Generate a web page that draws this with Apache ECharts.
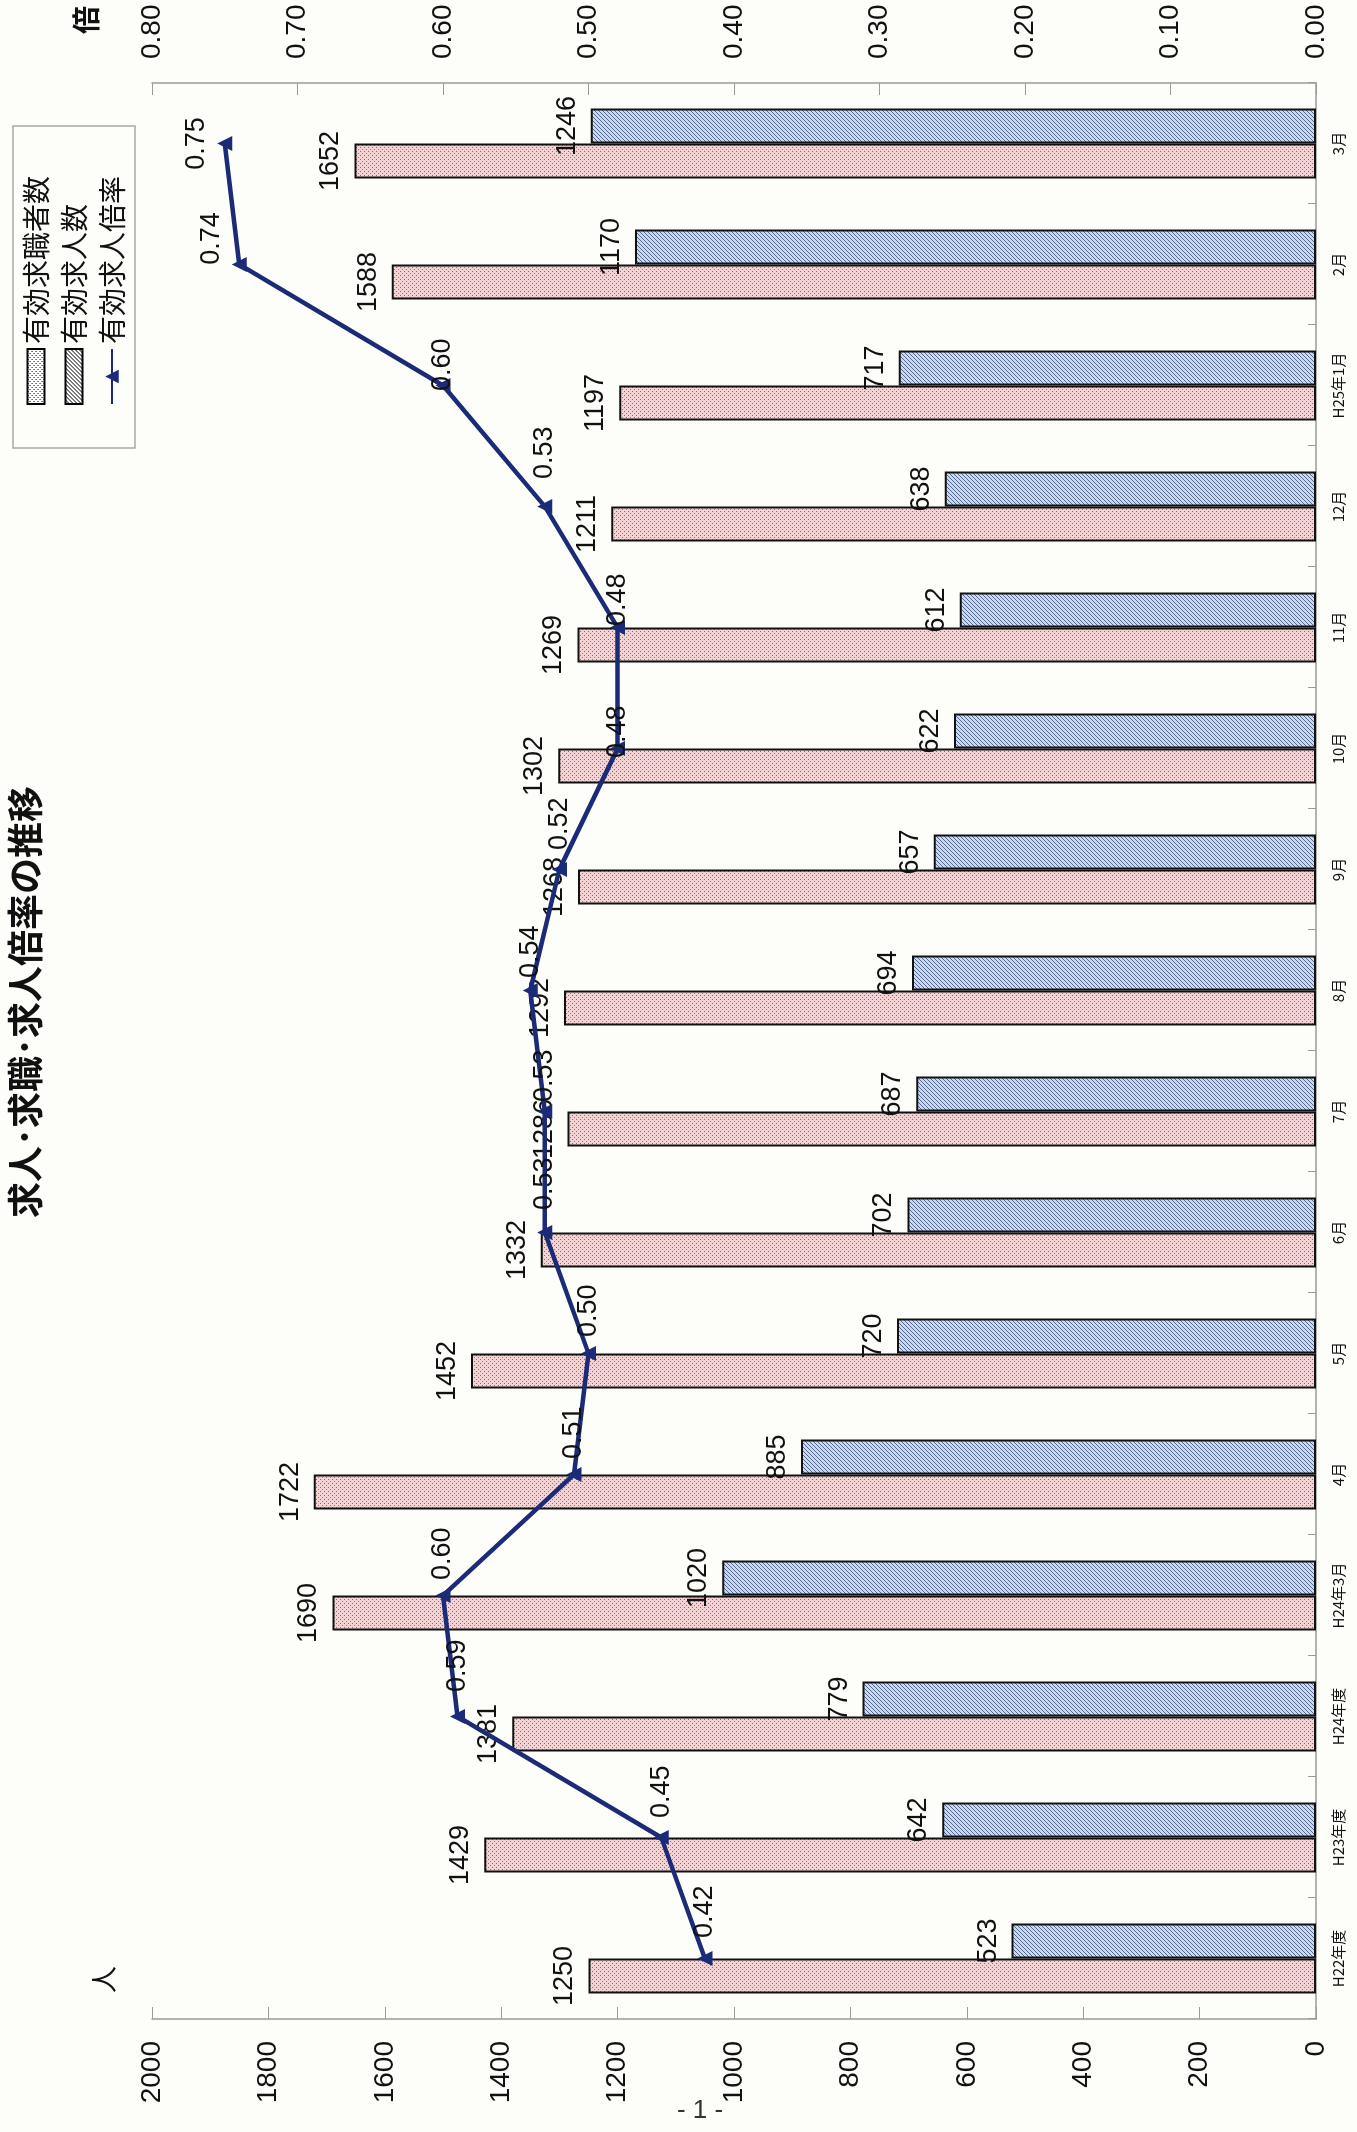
<!DOCTYPE html>
<html>
<head>
<meta charset="utf-8">
<script src="https://cdn.jsdelivr.net/npm/echarts@6/dist/echarts.min.js"></script>
<style>
html, body { margin:0; padding:0; background:#fdfdf9; overflow:hidden; width:1357px; height:2132px; }
#chart { position:absolute; left:0; top:0; width:2132px; height:1357px; transform-origin:0 0; transform:translateY(2132px) rotate(-90deg); }
#page { position:absolute; left:0; top:2094px; width:1400px; text-align:center; font:26px "Liberation Sans", sans-serif; color:#333; }
</style>
</head>
<body>
<div id="chart"></div>
<div id="page">- 1 -</div>
<script>
// ---- data ----
const categories = ['H22年度','H23年度','H24年度','H24年3月','4月','5月','6月','7月','8月','9月','10月','11月','12月','H25年1月','2月','3月'];
const jobSeekers = [1250,1429,1381,1690,1722,1452,1332,1286,1292,1268,1302,1269,1211,1197,1588,1652];
const jobOffers  = [523,642,779,1020,885,720,702,687,694,657,622,612,638,717,1170,1246];
const ratio      = [0.42,0.45,0.59,0.60,0.51,0.50,0.53,0.53,0.54,0.52,0.48,0.48,0.53,0.60,0.74,0.75];
// label placement of the ratio values as seen in the reference
const ratioLabelPos   = ['right','right','right','right','right','right','right','right','right','right','right','right','right','right','top','top'];
const ratioLabelShift = [6,5,10,1,1,2,8,-5,-2,5,-24,-13,13,-20,26,0];
const seriesNames = ['有効求職者数','有効求人数','有効求人倍率'];
const titleText = '求人･求職･求人倍率の推移';

const NUMF = '"Liberation Sans", Arial, sans-serif';
const JP = '"Noto Sans CJK JP", sans-serif';

function makePattern(kind, black) {
  const c = document.createElement('canvas');
  c.width = 4; c.height = 4;
  const g = c.getContext('2d');
  if (kind === 'dots') {
    g.fillStyle = black ? '#ffffff' : '#f3d2d4';
    g.fillRect(0,0,4,4);
    g.fillStyle = black ? '#000000' : '#d9465f';
    g.fillRect(0,0,1,1);
    g.fillStyle = black ? '#000000' : '#7a877f';
    g.fillRect(2,2,1,1);
  } else {
    g.fillStyle = black ? '#ffffff' : '#cbd8ee';
    g.fillRect(0,0,4,4);
    g.fillStyle = black ? '#000000' : '#556a92';
    g.fillRect(0,3,1,1); g.fillRect(1,2,1,1); g.fillRect(2,1,1,1); g.fillRect(3,0,1,1);
  }
  return { image: c, repeat: 'repeat' };
}

const chart = echarts.init(document.getElementById('chart'), null, { width: 2132, height: 1357 });
const navy = '#1b2b78';
const numLabel = { fontSize: 27, fontFamily: NUMF, color: '#111' };

chart.setOption({
  backgroundColor: '#fdfdf9',
  animation: false,
  title: {
    text: titleText,
    left: 909, top: 2,
    textStyle: { fontFamily: JP, fontSize: 36, fontWeight: 'bold', color: '#111' }
  },
  legend: {
    orient: 'vertical',
    left: 1684, top: 13,
    padding: [9, 50, 9, 43],
    borderColor: '#a8a8a8', borderWidth: 1.5,
    itemWidth: 55, itemHeight: 17, itemGap: 10,
    textStyle: { fontFamily: JP, fontSize: 28, color: '#111' },
    data: [
      { name: seriesNames[0], icon: 'rect', itemStyle: { color: makePattern('dots', true), borderColor: '#000', borderWidth: 2 } },
      { name: seriesNames[1], icon: 'rect', itemStyle: { color: makePattern('hatch', true), borderColor: '#000', borderWidth: 2 } },
      { name: seriesNames[2] }
    ]
  },
  grid: { left: 113, right: 83, top: 152, bottom: 41, containLabel: false },
  xAxis: {
    type: 'category',
    data: categories,
    boundaryGap: true,
    axisLine: { show: true, lineStyle: { color: '#9a9a9a', width: 1.5 } },
    axisTick: { show: true, inside: true, length: 8, lineStyle: { color: '#9a9a9a' } },
    axisLabel: { fontSize: 15, margin: 15, color: '#111', fontFamily: JP },
    splitLine: { show: false }
  },
  yAxis: [
    {
      type: 'value', min: 0, max: 2000, interval: 200, position: 'left',
      axisLine: { show: true, lineStyle: { color: '#9a9a9a', width: 1.5 } },
      axisTick: { show: true, inside: true, length: 12, lineStyle: { color: '#9a9a9a' } },
      axisLabel: { fontSize: 28, margin: 22, color: '#111', fontFamily: NUMF, formatter: v => String(v) },
      splitLine: { show: false }
    },
    {
      type: 'value', min: 0, max: 0.8, interval: 0.1, position: 'right',
      axisLine: { show: true, lineStyle: { color: '#9a9a9a', width: 1.5 } },
      axisTick: { show: true, inside: true, length: 12, lineStyle: { color: '#9a9a9a' } },
      axisLabel: { fontSize: 28, margin: 24, color: '#111', fontFamily: NUMF, formatter: v => v.toFixed(2) },
      splitLine: { show: false }
    }
  ],
  graphic: [
    { type: 'text', left: 139, top: 90, style: { text: '人', font: '27px ' + JP, fill: '#111' } },
    { type: 'text', left: 2098, top: 72, style: { text: '倍', font: 'bold 28px ' + JP, fill: '#111' } }
  ],
  series: [
    {
      name: seriesNames[0], type: 'bar', data: jobSeekers,
      barWidth: 35, barGap: '0%',
      itemStyle: { color: makePattern('dots', false), borderColor: '#111', borderWidth: 2 },
      label: Object.assign({ show: true, position: 'top', distance: 10 }, numLabel),
      z: 2
    },
    {
      name: seriesNames[1], type: 'bar', data: jobOffers,
      barWidth: 35, barGap: '0%',
      itemStyle: { color: makePattern('hatch', false), borderColor: '#111', borderWidth: 2 },
      label: Object.assign({ show: true, position: 'top', distance: 10 }, numLabel),
      z: 2
    },
    {
      name: seriesNames[2], type: 'line', yAxisIndex: 1,
      data: ratio.map((v, i) => ({ value: v, label: { position: ratioLabelPos[i], offset: [ratioLabelShift[i], 0] } })),
      symbol: 'triangle', symbolSize: 15,
      lineStyle: { color: navy, width: 4.5 },
      itemStyle: { color: navy },
      label: Object.assign({ show: true, position: 'right', distance: 7,
               formatter: p => Number(p.value).toFixed(2) }, numLabel),
      z: 5
    }
  ]
});
</script>
</body>
</html>
